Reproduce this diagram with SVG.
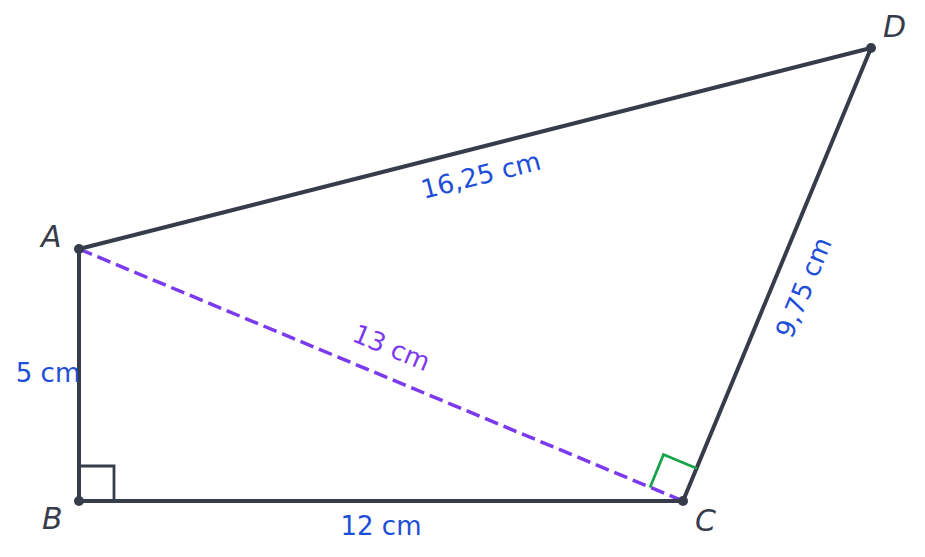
<svg xmlns="http://www.w3.org/2000/svg" width="925" height="557" viewBox="0 0 925 557">
<style>
.edge{stroke:#373c4b;stroke-width:4;fill:none;stroke-linecap:round}
.dash{stroke:#7c3aed;stroke-width:3.5;fill:none;stroke-dasharray:14 6}
.ra{stroke:#373c4b;stroke-width:2.8;fill:none}
.rag{stroke:#16a34a;stroke-width:2.8;fill:none}
.pt{fill:#373c4b}
.vlab{font-family:"DejaVu Sans",sans-serif;font-size:30px;font-style:italic;fill:#373c4b}
.len{font-family:"DejaVu Sans",sans-serif;font-size:26px;fill:#1d4ed8;text-anchor:middle}
.lenp{font-family:"DejaVu Sans",sans-serif;font-size:26px;fill:#7c3aed;text-anchor:middle}
</style>
<rect width="925" height="557" fill="#ffffff"/>
<g id="connectors">
<line class="dash" x1="79" y1="249" x2="683" y2="501"/>
<line class="edge" x1="79" y1="249" x2="79" y2="501"/>
<line class="edge" x1="79" y1="501" x2="683" y2="501"/>
<line class="edge" x1="683" y1="501" x2="871" y2="48"/>
<line class="edge" x1="79" y1="249" x2="871" y2="48"/>
</g>
<g id="right-angles">
<polyline class="ra" points="79,466 114,466 114,501"/>
<polyline class="rag" points="650,487.5 663.5,454.5 697,468.5"/>
</g>
<g id="A"><circle class="pt" cx="79" cy="249" r="5"/><text class="vlab" x="41" y="247">A</text></g>
<g id="B"><circle class="pt" cx="79" cy="501" r="5"/><text class="vlab" x="42" y="529">B</text></g>
<g id="C"><circle class="pt" cx="683" cy="501" r="5"/><text class="vlab" x="695" y="531">C</text></g>
<g id="D"><circle class="pt" cx="871" cy="48" r="5"/><text class="vlab" x="883" y="37">D</text></g>
<g id="labels">
<text class="len" x="381" y="535">12 cm</text>
<text class="len" x="48" y="382">5 cm</text>
<text class="len" transform="translate(483,184) rotate(-14.24)">16,25 cm</text>
<text class="lenp" transform="translate(388,356) rotate(22.65)">13 cm</text>
<text class="len" transform="translate(812,291) rotate(-67.47)">9,75 cm</text>
</g>
</svg>
